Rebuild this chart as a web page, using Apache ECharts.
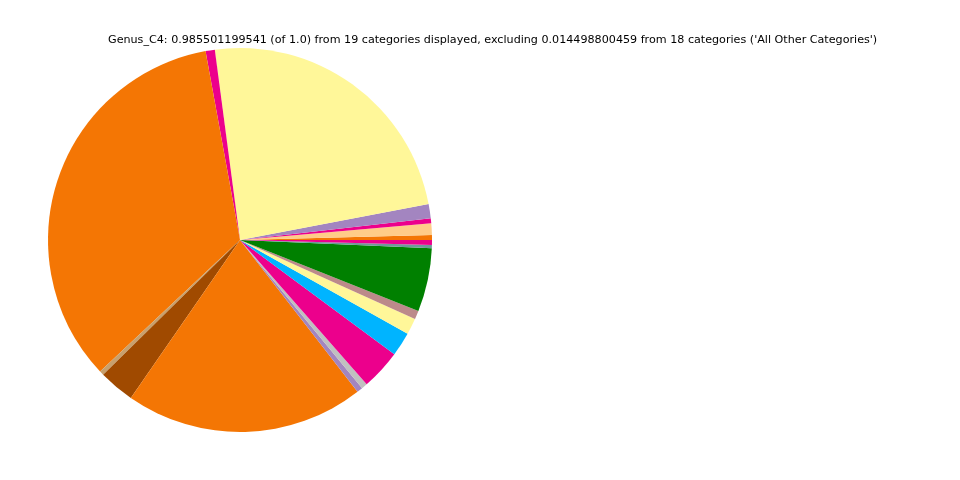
<!DOCTYPE html>
<html>
<head>
<meta charset="utf-8">
<script src="https://cdn.jsdelivr.net/npm/echarts@6/dist/echarts.min.js"></script>
<style>html,body{margin:0;padding:0;background:#fff}#c{width:960px;height:480px}</style>
</head>
<body>
<div id="c"></div>
<script>
var titleText = "Genus_C4: 0.985501199541 (of 1.0) from 19 categories displayed, excluding 0.014498800459 from 18 categories ('All Other Categories')";
var categories = ["Genus 1","Genus 2","Genus 3","Genus 4","Genus 5","Genus 6","Genus 7","Genus 8","Genus 9","Genus 10","Genus 11","Genus 12","Genus 13","Genus 14","Genus 15","Genus 16","Genus 17","Genus 18","Genus 19"];
var values = [0.0041,0.0096,0.0041,0.0118,0.2373,0.0077,0.3362,0.0036,0.0296,0.1981,0.0048,0.0049,0.0334,0.0200,0.0134,0.0071,0.0526,0.0027,0.0041];
var colors = ["#f47604","#ffcc88","#ec008c","#a385c0","#fff799","#ec008c","#f47604","#c8a06c","#a04a00","#f47604","#a385c0","#c0c0c0","#ec008c","#00b4ff","#fff799","#bc8a8a","#008000","#6f9a9a","#ec008c"];

var chart = echarts.init(document.getElementById('c'), null, {renderer:'canvas'});
chart.setOption({
  animation: false,
  backgroundColor: '#ffffff',
  title: {
    text: titleText,
    left: 103,
    top: 30,
    textStyle: {fontFamily: 'DejaVu Sans', fontSize: 11.15, fontWeight: 'normal', color: '#000'}
  },
  series: [{
    type: 'pie',
    center: [240, 240],
    radius: [0, 192],
    startAngle: 0,
    clockwise: false,
    avoidLabelOverlap: false,
    minAngle: 0,
    label: {show: false},
    labelLine: {show: false},
    emphasis: {disabled: true},
    itemStyle: {borderWidth: 0},
    data: categories.map(function(n, i){
      return {name: n, value: values[i], itemStyle: {color: colors[i]}};
    })
  }]
});
</script>
</body>
</html>
